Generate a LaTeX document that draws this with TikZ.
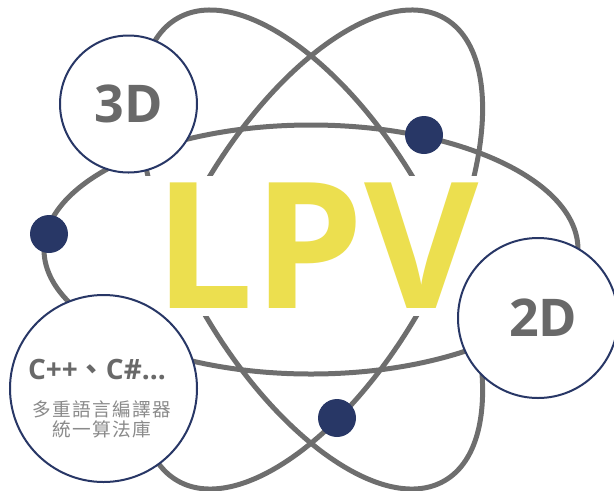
\documentclass[tikz,border=0pt]{standalone}
\usepackage{fontspec}
\setmainfont{Open Sans}
\newfontfamily\cjkfont{Noto Sans CJK TC}
\definecolor{orbitgray}{HTML}{6E6E6E}
\definecolor{labelgray}{HTML}{696969}
\definecolor{descgray}{HTML}{8A8A8A}
\definecolor{dotnavy}{HTML}{283766}
\definecolor{lpvyellow}{HTML}{ECDF4F}
\tikzset{
  orbit/.style={draw=orbitgray, line width=3.75pt},
  bubble/.style={circle, draw=dotnavy, line width=1.5pt, fill=white, inner sep=0pt,
    text=labelgray, font=\fontsize{39}{39}\selectfont\bfseries},
  electron/.style={circle, fill=dotnavy, inner sep=0pt, minimum size=28.5pt},
}
\begin{document}
\begin{tikzpicture}[x=0.75pt, y=-0.75pt]
    \useasboundingbox (0,0) rectangle (614,490);
    \coordinate (nucleus) at (311,249.5);

    \draw[orbit] (nucleus) ellipse [x radius=267, y radius=124.5];
    \draw[orbit, rotate around={60:(nucleus)}] (nucleus) ellipse [x radius=267, y radius=124.5];
    \draw[orbit, rotate around={-60:(nucleus)}] (nucleus) ellipse [x radius=267, y radius=124.5];

    \node[fill=white, text=lpvyellow, inner xsep=14pt, inner ysep=5.6pt,
      font=\fontsize{132}{132}\selectfont\bfseries] (lpv) at (316.5,246) {LPV};

    \node[bubble, minimum size=102.75pt] (threeD) at (128.5,104) {3D};
    \node[bubble, minimum size=120pt] (twoD) at (538,318) {\hspace*{8pt}2D};
    \node[bubble, minimum size=140.25pt] (multilang) at (103.5,388.5) {};
    \node[text=labelgray, font=\fontsize{21}{21}\selectfont\bfseries] (langs) at (97,370) {C++{\cjkfont 、}C\#...};
    \node[text=descgray, align=center, font=\cjkfont\addfontfeatures{LetterSpace=7}\fontsize{14}{14.5}\selectfont]
      (langdesc) at (102,419.5) {多重語言編譯器\\統一算法庫};

    \node[electron] (leftdot) at (49,234) {};
    \node[electron] (topdot) at (424,135) {};
    \node[electron] (bottomdot) at (337,418) {};
\end{tikzpicture}
\end{document}
